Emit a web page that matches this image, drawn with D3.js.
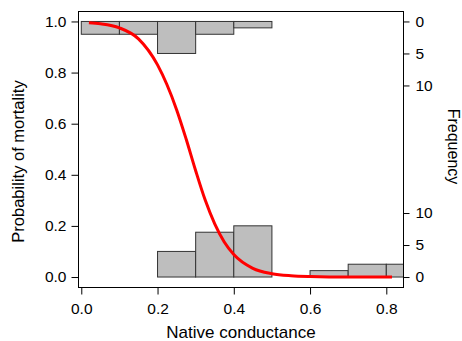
<!DOCTYPE html>
<html>
<head>
<meta charset="utf-8">
<script src="https://cdn.jsdelivr.net/npm/d3@7"></script>
<style>
  body { margin: 0; background: #fff; }
  text { font-family: "Liberation Sans", Arial, sans-serif; fill: #000; }
</style>
</head>
<body>
<div id="chart"></div>
<script>
const width = 462;
const height = 341;

// data
const xTicks = [0, 0.2, 0.4, 0.6, 0.8];
const yTicks = [0, 0.2, 0.4, 0.6, 0.8, 1.0];
const freqTicks = [0, 5, 10];
const binWidth = 0.1;
const deadBinStarts = [0.0, 0.1, 0.2, 0.3, 0.4];
const deadCounts = [2, 2, 5, 2, 1];
const aliveBinStarts = [0.2, 0.3, 0.4, 0.6, 0.7, 0.8];
const aliveCounts = [4, 7, 8, 1, 2, 2];
const curveX = [0.02, 0.05, 0.10, 0.15, 0.20, 0.25, 0.275, 0.30, 0.325, 0.35, 0.375, 0.40, 0.45, 0.50, 0.55, 0.60, 0.70, 0.815];
const curveP = [0.995, 0.991, 0.975, 0.932, 0.83, 0.655, 0.54, 0.416, 0.301, 0.208, 0.137, 0.088, 0.034, 0.013, 0.005, 0.002, 0.0, 0.0];

const box = { left: 78.5, right: 403.5, top: 11.5, bottom: 287.5 };

const svg = d3.select("#chart")
  .append("svg")
  .attr("width", width)
  .attr("height", height);

const x = d3.scaleLinear()
  .domain([-0.0073, 0.8451])
  .range([box.left, box.right]);

const y = d3.scaleLinear()
  .domain([-0.041, 1.039])
  .range([box.bottom, box.top]);

// frequency scales: top histogram hangs down from p = 1, bottom one rises from p = 0
const fTop = d3.scaleLinear().domain([0, 10]).range([y(1), y(1) + 64]);
const fBot = d3.scaleLinear().domain([0, 10]).range([y(0), y(0) - 64]);

svg.append("clipPath")
  .attr("id", "plotclip")
  .append("rect")
  .attr("x", box.left)
  .attr("y", box.top)
  .attr("width", box.right - box.left)
  .attr("height", box.bottom - box.top);

const plot = svg.append("g").attr("clip-path", "url(#plotclip)");

plot.append("g")
  .selectAll("rect")
  .data(deadBinStarts.map((b, i) => ({ b, n: deadCounts[i] })))
  .enter().append("rect")
  .attr("x", d => x(d.b))
  .attr("width", d => x(d.b + binWidth) - x(d.b))
  .attr("y", fTop(0))
  .attr("height", d => fTop(d.n) - fTop(0))
  .attr("fill", "#bebebe")
  .attr("stroke", "#333")
  .attr("stroke-width", 1);

plot.append("g")
  .selectAll("rect")
  .data(aliveBinStarts.map((b, i) => ({ b, n: aliveCounts[i] })))
  .enter().append("rect")
  .attr("x", d => x(d.b))
  .attr("width", d => x(d.b + binWidth) - x(d.b))
  .attr("y", d => fBot(d.n))
  .attr("height", d => fBot(0) - fBot(d.n))
  .attr("fill", "#bebebe")
  .attr("stroke", "#333")
  .attr("stroke-width", 1);

const line = d3.line()
  .x(d => x(d[0]))
  .y(d => y(d[1]))
  .curve(d3.curveMonotoneX);

plot.append("path")
  .datum(curveX.map((v, i) => [v, curveP[i]]))
  .attr("fill", "none")
  .attr("stroke", "#ff0000")
  .attr("stroke-width", 3)
  .attr("d", line);

svg.append("rect")
  .attr("x", box.left)
  .attr("y", box.top)
  .attr("width", box.right - box.left)
  .attr("height", box.bottom - box.top)
  .attr("fill", "none")
  .attr("stroke", "#000")
  .attr("stroke-width", 1);

function styleAxis(g) {
  g.select(".domain").remove();
  g.selectAll("text").attr("font-size", 15.5).attr("fill", "#000")
    .attr("font-family", "'Liberation Sans', Arial, sans-serif");
  g.selectAll("line").attr("stroke", "#000");
}

svg.append("g")
  .attr("transform", `translate(0,${box.bottom})`)
  .call(d3.axisBottom(x).tickValues(xTicks).tickSize(7).tickPadding(8).tickFormat(d3.format(".1f")))
  .call(styleAxis);

svg.append("g")
  .attr("transform", `translate(${box.left},0)`)
  .call(d3.axisLeft(y).tickValues(yTicks).tickSize(7).tickPadding(5).tickFormat(d3.format(".1f")))
  .call(styleAxis);

svg.append("g")
  .attr("transform", `translate(${box.right},0)`)
  .call(d3.axisRight(fTop).tickValues(freqTicks).tickSize(6).tickPadding(6))
  .call(styleAxis);

svg.append("g")
  .attr("transform", `translate(${box.right},0)`)
  .call(d3.axisRight(fBot).tickValues(freqTicks).tickSize(6).tickPadding(6))
  .call(styleAxis);

svg.append("text")
  .attr("x", (box.left + box.right) / 2)
  .attr("y", 338)
  .attr("text-anchor", "middle")
  .attr("font-size", 17)
  .text("Native conductance");

svg.append("text")
  .attr("transform", "translate(24,161.5) rotate(-90)")
  .attr("text-anchor", "middle")
  .attr("font-size", 16.5)
  .text("Probability of mortality");

svg.append("text")
  .attr("transform", "translate(447.5,146.5) rotate(90)")
  .attr("text-anchor", "middle")
  .attr("font-size", 16)
  .text("Frequency");
</script>
</body>
</html>
